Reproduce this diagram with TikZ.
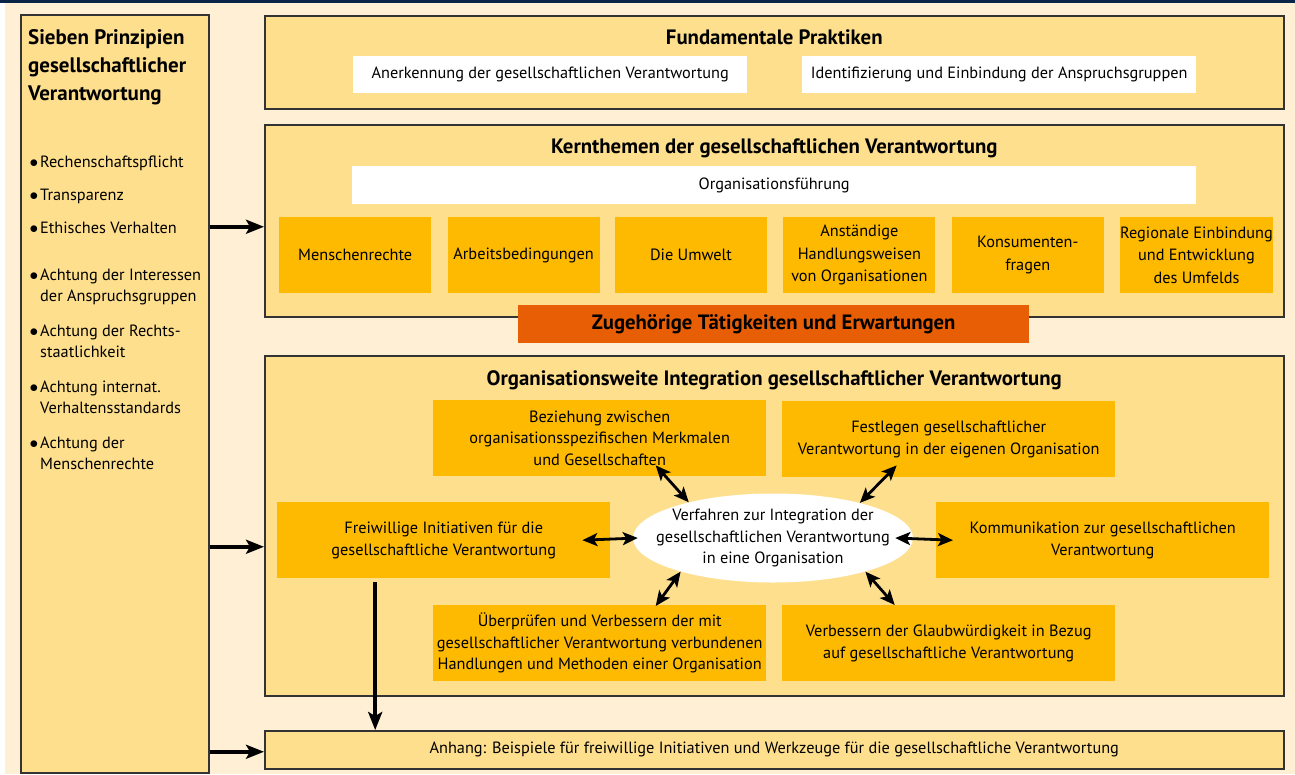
\documentclass[tikz,border=0pt]{standalone}
\usepackage{fontspec}
\setmainfont{PT Sans}
\usetikzlibrary{shapes.geometric,arrows.meta,positioning,calc}

\definecolor{bgcream}{RGB}{255,240,213}
\definecolor{panelyellow}{RGB}{254,223,142}
\definecolor{topicorange}{RGB}{253,186,0}
\definecolor{activityred}{RGB}{232,94,4}
\definecolor{topnavy}{RGB}{8,36,72}

\newcommand{\bodyfont}{\fontsize{16.3}{21.5}\selectfont}
\newcommand{\topicfont}{\fontsize{16.3}{22.5}\selectfont}
\newcommand{\titlefont}{\fontsize{20.8}{27}\selectfont\bfseries}
\newcommand{\itembullet}{\makebox[9pt][l]{\hspace{-1.5pt}$\bullet$}}

\tikzset{
  panel/.style={draw=black!80, line width=1.5pt, fill=panelyellow, anchor=north west, inner sep=0pt},
  topic/.style={fill=topicorange, anchor=north west, inner sep=0pt, align=center, font=\topicfont},
  whitebar/.style={fill=white, anchor=north west, inner sep=0pt, font=\bodyfont},
  paneltitle/.style={anchor=base, inner sep=0pt, font=\titlefont},
  item/.style={anchor=base west, inner sep=0pt, font=\bodyfont},
  mainarrow/.style={line width=4pt, -{Stealth[length=18pt,width=14pt,inset=4pt]}},
  biarrow/.style={line width=2.8pt, {Stealth[length=15pt,width=13pt,inset=3.5pt]}-{Stealth[length=15pt,width=13pt,inset=3.5pt]}}
}

\begin{document}
\begin{tikzpicture}[x=1pt, y=-1pt]
        \useasboundingbox (0,0) rectangle (1295,774);
        % Background
        \fill[white] (0,0) rectangle (1295,774);
        \fill[bgcream] (5,3) rectangle (1295,774);
        \fill[topnavy] (0,0) rectangle (1295,3);

        % Left column: principles
        \node[panel, minimum width=188pt, minimum height=758pt] (prinz) at (20,14) {};
        \node[anchor=base west, inner sep=0pt, font=\fontsize{21}{28}\selectfont\bfseries] (prinztitle) at (28,44)
            {\begin{tabular}[t]{@{}l@{}}Sieben Prinzipien\\gesellschaftlicher\\Verantwortung\end{tabular}};
        \node[item] (p1) at (31,167) {\itembullet Rechenschaftspflicht};
        \node[item] (p2) at (31,200) {\itembullet Transparenz};
        \node[item] (p3) at (31,233) {\itembullet Ethisches Verhalten};
        \node[item] (p4) at (31,280) {\begin{tabular}[t]{@{}l@{}}\itembullet Achtung der Interessen\\\phantom{\itembullet}der Anspruchsgruppen\end{tabular}};
        \node[item] (p5) at (31,336) {\begin{tabular}[t]{@{}l@{}}\itembullet Achtung der Rechts-\\\phantom{\itembullet}staatlichkeit\end{tabular}};
        \node[item] (p6) at (31,392) {\begin{tabular}[t]{@{}l@{}}\itembullet Achtung internat.\\\phantom{\itembullet}Verhaltensstandards\end{tabular}};
        \node[item] (p7) at (31,448) {\begin{tabular}[t]{@{}l@{}}\itembullet Achtung der\\\phantom{\itembullet}Menschenrechte\end{tabular}};

        % Fundamental practices
        \node[panel, minimum width=1019pt, minimum height=93pt] (fund) at (264,15) {};
        \node[paneltitle] (fundtitle) at ($(fund.north)+(0,29)$) {Fundamentale Praktiken};
        \node[whitebar, minimum width=394pt, minimum height=37pt] (anerk) at (353,56) {Anerkennung der gesellschaftlichen Verantwortung};
        \node[whitebar, minimum width=394pt, minimum height=37pt] (ident) at (802,56) {Identifizierung und Einbindung der Anspruchsgruppen};

        % Core subjects
        \node[panel, minimum width=1019pt, minimum height=192pt] (kern) at (264,124) {};
        \node[paneltitle] (kerntitle) at ($(kern.north)+(0,29)$) {Kernthemen der gesellschaftlichen Verantwortung};
        \node[whitebar, minimum width=844pt, minimum height=38pt] (orgf) at (352,166) {Organisationsführung};
        \node[topic, minimum width=152pt, minimum height=76pt] (t1) at (279,217) {Menschenrechte};
        \node[topic, minimum width=152pt, minimum height=76pt, right=16pt of t1] (t2) {Arbeitsbedingungen};
        \node[topic, minimum width=152pt, minimum height=76pt, right=15pt of t2] (t3) {Die Umwelt};
        \node[topic, minimum width=152pt, minimum height=76pt, right=16pt of t3] (t4) {Anständige\\Handlungsweisen\\von Organisationen};
        \node[topic, minimum width=152pt, minimum height=76pt, right=16pt of t4] (t5) {Konsumenten-\\fragen};
        \node[topic, minimum width=152pt, minimum height=76pt, right=16pt of t5] (t6) {Regionale Einbindung\\und Entwicklung\\des Umfelds};

        % Related actions bar
        \node[fill=activityred, anchor=north west, inner sep=0pt, minimum width=511pt, minimum height=38pt,
              font=\fontsize{20.7}{24}\selectfont\bfseries] (zugeh) at (518,305) {Zugehörige Tätigkeiten und Erwartungen};

        % Integration
        \node[panel, minimum width=1019pt, minimum height=340pt] (integ) at (264,355) {};
        \node[paneltitle] (integtitle) at ($(integ.north)+(0,30)$) {Organisationsweite Integration gesellschaftlicher Verantwortung};
        \node[topic, font=\bodyfont, minimum width=333pt, minimum height=76pt] (bez) at (433,400)
            {Beziehung zwischen\\organisationsspezifischen Merkmalen\\und Gesellschaften};
        \node[topic, font=\bodyfont, minimum width=333pt, minimum height=76pt] (fest) at (782,401)
            {Festlegen gesellschaftlicher\\Verantwortung in der eigenen Organisation};
        \node[topic, font=\bodyfont, minimum width=333pt, minimum height=76pt] (frei) at (277,502)
            {Freiwillige Initiativen für die\\gesellschaftliche Verantwortung};
        \node[topic, font=\bodyfont, minimum width=333pt, minimum height=76pt] (komm) at (936,502)
            {Kommunikation zur gesellschaftlichen\\Verantwortung};
        \node[topic, font=\bodyfont, minimum width=333pt, minimum height=76pt] (uebp) at (433,605)
            {Überprüfen und Verbessern der mit\\gesellschaftlicher Verantwortung verbundenen\\Handlungen und Methoden einer Organisation};
        \node[topic, font=\bodyfont, minimum width=333pt, minimum height=76pt] (verb) at (782,605)
            {Verbessern der Glaubwürdigkeit in Bezug\\auf gesellschaftliche Verantwortung};
        \node[ellipse, fill=white, align=center, font=\bodyfont, inner xsep=-22pt, inner ysep=-4pt,
              minimum width=280pt, minimum height=89pt] (verf) at (773,538)
            {Verfahren zur Integration der\\gesellschaftlichen Verantwortung\\in eine Organisation};

        % Annex
        \node[panel, minimum width=1019pt, minimum height=38pt, font=\bodyfont] (anh) at (264,730)
            {Anhang: Beispiele für freiwillige Initiativen und Werkzeuge für die gesellschaftliche Verantwortung};

        % Arrows from the principles
        \draw[mainarrow] ([yshift=-6pt]kern.west -| prinz.east) -- ([yshift=-6pt]kern.west);
        \draw[mainarrow] ([yshift=-21pt]integ.west -| prinz.east) -- ([yshift=-21pt]integ.west);
        \draw[mainarrow] ([yshift=-2pt]anh.west -| prinz.east) -- ([yshift=-2pt]anh.west);
        \draw[mainarrow] ([xshift=-68.5pt,yshift=-4pt]frei.south) -- ([xshift=-68.5pt]frei.south |- anh.north);

        % Arrows round the procedure
        \draw[biarrow] ([xshift=-28pt]frei.east) -- ([xshift=5pt]verf.west);
        \draw[biarrow] ([xshift=-18pt]verf.east) -- ([xshift=17pt]komm.west);
        \draw[biarrow] ($(bez.south)+(56,-11)$) -- (verf.157);
        \draw[biarrow] ($(fest.south)+(-52,-12)$) -- (verf.22);
        \draw[biarrow] ($(uebp.north)+(56,1)$) -- (verf.200);
        \draw[biarrow] ($(verb.north)+(-54,0)$) -- (verf.340);
    \end{tikzpicture}
\end{document}
